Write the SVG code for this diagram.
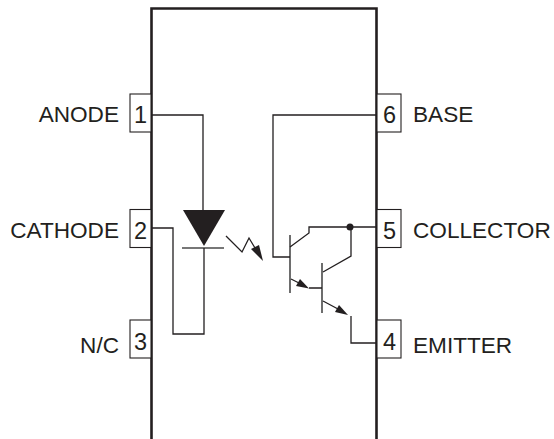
<svg xmlns="http://www.w3.org/2000/svg" width="554" height="439" viewBox="0 0 554 439">
<style>
.w{fill:none;stroke:#231f20;stroke-width:1.3}
.b{fill:none;stroke:#231f20;stroke-width:2.6}
.p{fill:#fff;stroke:#231f20;stroke-width:1.1}
.h{fill:#231f20;stroke:none}
.g{fill:none;stroke:#4a4a4a;stroke-width:1.6}
text{font-family:"Liberation Sans",Arial,sans-serif;font-size:22.6px;fill:#231f20}
.n{font-size:23.500px;text-anchor:middle}
.e{text-anchor:end}
</style>
<rect width="554" height="439" fill="#fff"/>
<g id="body"><path class="b" d="M151.500 439V8.500H376.500V439"/></g>
<g id="pin1"><rect class="p" x="130" y="94" width="21" height="38"/><text class="n" x="140.500" y="122.500">1</text><text class="e" x="119" y="122">ANODE</text></g>
<g id="pin2"><rect class="p" x="130" y="209.500" width="21" height="38"/><text class="n" x="140.500" y="238.500">2</text><text class="e" x="119" y="238">CATHODE</text></g>
<g id="pin3"><rect class="p" x="130" y="320" width="21" height="38"/><text class="n" x="140.500" y="349.500">3</text><text class="e" x="119" y="353">N/C</text></g>
<g id="pin6"><rect class="p" x="377" y="94" width="24" height="38"/><text class="n" x="389.500" y="122.500">6</text><text x="413" y="122">BASE</text></g>
<g id="pin5"><rect class="p" x="377" y="209.500" width="24" height="38"/><text class="n" x="389.500" y="239">5</text><text x="413" y="238">COLLECTOR</text></g>
<g id="pin4"><rect class="p" x="377" y="320" width="24" height="38"/><text class="n" x="389.500" y="349.500">4</text><text x="413" y="353">EMITTER</text></g>
<g id="led"><path class="h" d="M183 210H225L204 246Z"/><path class="g" d="M182 248H224"/></g>
<g id="phototransistor">
<path class="g" d="M290 235V293M322 263V313"/>
<circle class="h" cx="350" cy="227" r="3.500"/>
<path class="h" d="M309 288.500 296 286 300 279Z"/>
<path class="h" d="M348 315 335 312 339 305Z"/>
</g>
<g id="connectors">
<path class="w" d="M152 115H203V211"/>
<path class="w" d="M152 228H173V334H204V248"/>
<path class="w" d="M376 115H273V257H290"/>
<path class="w" d="M290 247 309 233V227H376"/>
<path class="w" d="M351 227V256L323 272"/>
<path class="w" d="M291 279 301 284M309 288H322"/>
<path class="w" d="M323 301 338 309M351 316V343H376"/>
<path class="w" d="M226 236 242 252 249 238 255 248"/>
<path class="h" d="M263 261 251 249 259 245Z"/>
</g>
</svg>
